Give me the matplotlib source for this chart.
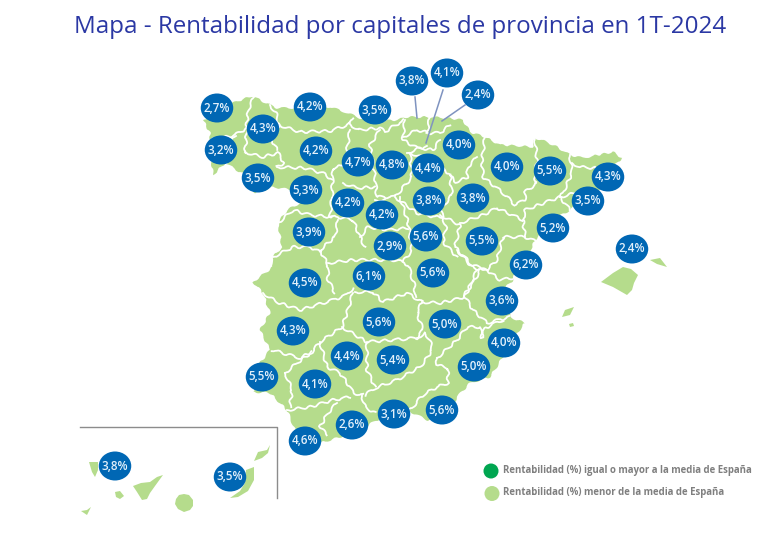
import matplotlib
matplotlib.use('Agg')
from matplotlib import pyplot as plt
from matplotlib.patches import Ellipse, Polygon

plt.rcParams['font.family'] = ['Open Sans', 'DejaVu Sans']

title = 'Mapa - Rentabilidad por capitales de provincia en 1T-2024'
legend_labels = ['Rentabilidad (%) igual o mayor a la media de España',
                 'Rentabilidad (%) menor de la media de España']

# rentabilidad per province, with where each bubble sits on the map
values = ['3,8%', '4,1%', '2,4%', '2,7%', '4,2%', '3,5%', '4,3%', '3,2%', '4,2%', '4,7%',
          '4,8%', '4,4%', '4,0%', '4,0%', '5,5%', '4,3%', '3,5%', '5,3%', '4,2%', '3,8%',
          '3,8%', '3,5%', '4,2%', '5,2%', '3,9%', '2,9%', '5,6%', '5,5%', '6,2%', '2,4%',
          '6,1%', '5,6%', '4,5%', '3,6%', '5,6%', '5,0%', '4,3%', '4,0%', '4,4%', '5,4%',
          '5,0%', '5,5%', '4,1%', '5,6%', '3,1%', '2,6%', '4,6%', '3,8%', '3,5%']
bubble_x = [412, 447, 478, 217, 310, 375, 263, 221, 316, 358,
            392, 428, 459, 507, 550, 608, 258, 306, 348, 429,
            473, 588, 382, 553, 309, 390, 426, 482, 526, 632,
            369, 433, 305, 502, 379, 445, 293, 504, 347, 393,
            474, 262, 315, 442, 394, 352, 305, 115, 230]
bubble_y = [81, 73, 95, 108, 107, 110, 129, 150, 151, 162,
            165, 168, 145, 167, 171, 177, 178, 190, 203, 201,
            198, 201, 215, 228, 232, 246, 237, 241, 265, 249,
            276, 273, 283, 301, 322, 324, 331, 343, 356, 360,
            367, 377, 384, 410, 414, 425, 441, 466, 477]

# map shapes, traced in picture pixels
mainland = [(203, 120), (218, 112), (233, 103), (252, 96), (270, 105), (277, 108), (300, 108),
            (330, 107), (345, 112), (360, 118), (380, 121), (397, 120), (407, 117), (430, 117),
            (447, 118), (463, 120), (470, 132), (485, 137), (500, 145), (520, 146), (533, 147),
            (535, 138), (547, 142), (557, 147), (570, 155), (583, 158), (598, 155), (613, 152),
            (622, 158), (610, 170), (603, 187), (587, 197), (570, 210), (553, 220), (537, 237),
            (530, 250), (522, 262), (515, 273), (513, 280), (503, 290), (510, 317), (525, 323),
            (517, 333), (503, 357), (490, 377), (470, 383), (457, 397), (447, 417), (427, 420),
            (407, 410), (383, 417), (353, 433), (330, 440), (320, 443), (303, 447), (295, 430),
            (290, 417), (287, 410), (270, 393), (253, 392), (260, 363), (270, 350), (260, 330),
            (270, 313), (263, 293), (253, 282), (273, 267), (272, 258), (282, 247), (278, 223),
            (287, 210), (300, 203), (293, 190), (273, 187), (255, 193), (245, 175), (225, 163),
            (213, 175), (212, 165), (210, 133)]
mallorca = [(601, 282), (613, 273), (623, 267), (631, 269), (638, 275), (634, 283), (632, 290),
            (627, 295), (620, 291), (613, 287)]
menorca = [(650, 260), (660, 258), (667, 267), (657, 264)]
ibiza = [(562, 317), (565, 310), (574, 307), (570, 315)]
formentera = [(569, 324), (573, 323), (574, 326), (570, 327)]
la_palma = [(89, 462), (98, 462), (98, 470), (95, 477), (92, 472)]
tenerife = [(133, 486), (141, 483), (150, 482), (157, 477), (163, 475), (155, 486), (150, 493),
            (147, 499), (142, 500), (137, 492)]
gomera = [(115, 492), (120, 491), (124, 496), (120, 499), (116, 497)]
gran_canaria = [(176, 499), (179, 495), (184, 494), (189, 495), (193, 500), (193, 506), (190, 510),
                (184, 512), (178, 509), (175, 504)]
hierro = [(81, 511), (87, 510), (91, 507), (87, 515)]
fuerteventura = [(230, 498), (240, 491), (245, 483), (246, 470), (254, 467), (254, 480), (248, 491),
                 (238, 497)]
lanzarote = [(254, 461), (258, 452), (267, 450), (270, 445), (268, 453), (262, 458)]
islands = [mallorca, menorca, ibiza, formentera, la_palma, tenerife, gomera,
           gran_canaria, hierro, fuerteventura, lanzarote]

borders = [
    [(254, 97), (249, 108), (247, 120), (246, 142), (245, 153)],
    [(203, 141), (222, 138), (235, 135), (247, 128)],
    [(236, 136), (228, 145), (232, 155), (226, 163)],
    [(245, 152), (262, 157), (278, 153), (284, 163), (277, 167)],
    [(270, 105), (276, 113), (279, 125), (272, 140), (277, 150)],
    [(279, 125), (300, 132), (330, 131), (350, 124), (352, 118)],
    [(277, 167), (305, 168), (325, 174), (332, 180)],
    [(350, 124), (358, 130), (380, 128), (385, 132), (395, 125), (402, 122), (404, 120)],
    [(350, 130), (347, 150), (345, 165), (333, 168), (332, 198)],
    [(380, 130), (370, 145), (375, 177), (377, 197), (395, 197), (412, 177), (410, 153)],
    [(343, 183), (357, 188), (375, 187)],
    [(332, 198), (330, 217), (338, 217), (353, 220), (360, 237), (365, 247)],
    [(278, 223), (293, 210), (310, 215), (332, 217)],
    [(338, 220), (335, 237), (320, 250), (328, 265), (328, 280), (335, 293)],
    [(273, 257), (293, 247), (310, 247), (320, 252)],
    [(263, 293), (277, 302), (300, 310), (333, 300), (347, 295), (353, 288)],
    [(328, 263), (353, 260), (375, 260), (397, 260), (408, 265), (415, 287), (415, 297)],
    [(353, 293), (350, 303), (347, 313), (342, 327), (320, 342), (312, 352), (300, 358), (272, 350)],
    [(320, 342), (327, 367), (340, 373), (350, 387), (353, 393), (363, 395)],
    [(342, 327), (367, 342), (417, 338), (423, 330), (417, 313), (422, 302)],
    [(355, 292), (373, 292), (383, 302), (407, 293), (422, 302)],
    [(422, 302), (440, 303), (462, 298), (473, 283), (480, 270)],
    [(457, 250), (473, 268), (487, 270), (500, 280), (512, 278)],
    [(477, 270), (465, 297), (473, 310), (487, 323), (510, 317)],
    [(437, 358), (457, 340), (467, 327), (480, 327), (482, 338), (485, 328), (503, 320)],
    [(425, 333), (430, 340), (432, 350), (427, 358), (420, 367), (397, 380), (375, 388), (365, 395)],
    [(437, 358), (437, 365), (448, 368), (448, 383), (437, 387), (423, 395), (410, 410)],
    [(367, 342), (367, 370), (375, 387)],
    [(362, 395), (365, 407), (375, 413)],
    [(287, 410), (310, 407), (333, 400), (350, 397)],
    [(337, 403), (328, 413), (320, 427), (327, 435)],
    [(285, 373), (287, 377), (292, 390), (290, 407)],
    [(285, 373), (297, 363), (312, 352)],
    [(403, 137), (417, 130), (430, 133), (440, 133), (450, 125)],
    [(430, 117), (427, 133)],
    [(405, 120), (403, 137), (403, 140), (417, 148), (427, 147)],
    [(407, 153), (420, 148), (433, 150), (440, 140)],
    [(410, 153), (425, 158), (445, 170), (450, 175)],
    [(485, 137), (482, 160), (483, 177), (503, 193), (515, 205), (525, 200), (525, 192), (537, 183)],
    [(477, 157), (468, 167), (467, 178), (455, 182), (450, 175), (452, 195), (440, 210), (443, 217)],
    [(535, 138), (537, 160), (535, 183)],
    [(570, 155), (572, 173), (563, 193), (560, 197)],
    [(460, 223), (483, 215), (497, 208), (523, 220)],
    [(523, 220), (525, 210), (560, 197), (570, 210)],
    [(572, 163), (580, 167), (595, 168), (597, 182), (603, 187)],
    [(560, 197), (587, 190)],
    [(537, 242), (525, 237), (523, 220)],
    [(525, 237), (503, 237), (497, 260), (487, 270)],
    [(440, 215), (460, 225), (455, 247), (472, 265), (487, 270)],
    [(395, 197), (417, 213), (435, 217), (443, 217)],
    [(443, 217), (446, 228), (443, 242), (457, 257)],
    [(400, 197), (408, 222), (412, 250), (403, 262)],
    [(375, 200), (385, 200)],
    [(360, 237), (368, 227), (390, 230), (408, 228)],
    [(417, 338), (425, 333)],
]
leaders = [[(415, 97), (417, 118)], [(443, 90), (426, 143)], [(465, 105), (442, 121)]]

land_green = '#b5dc8c'
bubble_blue = '#0067b4'

fig = plt.figure(figsize=(7.68, 5.35), dpi=100)
ax = fig.add_axes([0, 0, 1, 1])
ax.set_xlim(0, 768)
ax.set_ylim(535, 0)
ax.axis('off')

# sketch gives the hand traced outlines a coastline-like wiggle, islands stay plain
patch = Polygon(mainland, closed=True, facecolor=land_green, edgecolor='none', zorder=1)
patch.set_sketch_params(1.0, 14, 2)
ax.add_patch(patch)
for shape in islands:
    ax.add_patch(Polygon(shape, closed=True, facecolor=land_green, edgecolor='none', zorder=1))
for line in borders:
    ln, = ax.plot([p[0] for p in line], [p[1] for p in line], color='white', lw=1.3, zorder=2)
    ln.set_sketch_params(1.3, 14, 2)
for line in leaders:
    ax.plot([p[0] for p in line], [p[1] for p in line], color='#7f93c0', lw=1.1, zorder=3)

# canary islands box
ax.plot([80, 276.5, 276.5], [426.5, 426.5, 498], color='#8c8c8c', lw=1, zorder=1)

for x, y, val in zip(bubble_x, bubble_y, values):
    ax.add_patch(Ellipse((x, y), 32.5, 29, facecolor=bubble_blue, edgecolor='none', zorder=4))
    ax.text(x, y, val, color='#e4f1fb', fontsize=8.4, fontweight='semibold',
            ha='center', va='center', zorder=5)

ax.text(400, 27, title, color='#2b38a4', fontsize=17.35, ha='center', va='center')

# legend
ax.add_patch(Ellipse((491, 471), 15, 15, facecolor='#00a651', edgecolor='none'))
ax.add_patch(Ellipse((492, 493.5), 15, 15, facecolor=land_green, edgecolor='none'))
ax.text(503, 470.5, legend_labels[0], color='#7f7f7f', fontsize=6.9, fontweight='bold', va='center')
ax.text(503, 493, legend_labels[1], color='#7f7f7f', fontsize=6.9, fontweight='bold', va='center')

fig.savefig('out.png', dpi=100)
